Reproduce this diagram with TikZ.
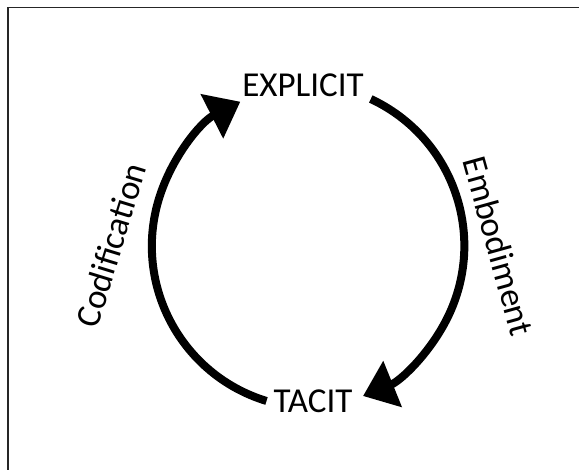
\documentclass[tikz,border=0pt]{standalone}
\usepackage{fontspec}
\setmainfont{Carlito}
\usetikzlibrary{arrows.meta, positioning}

\begin{document}
\begin{tikzpicture}[
        x=0.5pt, y=0.5pt,
        state/.style={font=\fontsize{17.5}{21}\selectfont},
        process/.style={font=\fontsize{17.5}{21}\selectfont},
        flow/.style={-{Triangle[length=16pt, width=24pt]}, line width=4pt},
        frame/.style={line width=0.8pt, black!85}
    ]
        \useasboundingbox (0,0) rectangle (579,470);

        % Frame
        \draw[frame] (579,462.5) -- (8,462.5) -- (8,0);

        % Nodes
        \node[state] (explicit) at (303,385) {EXPLICIT};
        \node[state] (tacit) at (313,69) {TACIT};
        \node[process, rotate=73] (codification) at (111,225) {Codification};
        \node[process, rotate=-74.5] (embodiment) at (499,224) {Embodiment};

        % Cycle
        \draw[flow] ([yshift=-7pt]explicit.east) arc[start angle=65, end angle=-68, radius=162];
        \draw[flow] (tacit.west) arc[start angle=253, end angle=117, radius=162];
\end{tikzpicture}
\end{document}
